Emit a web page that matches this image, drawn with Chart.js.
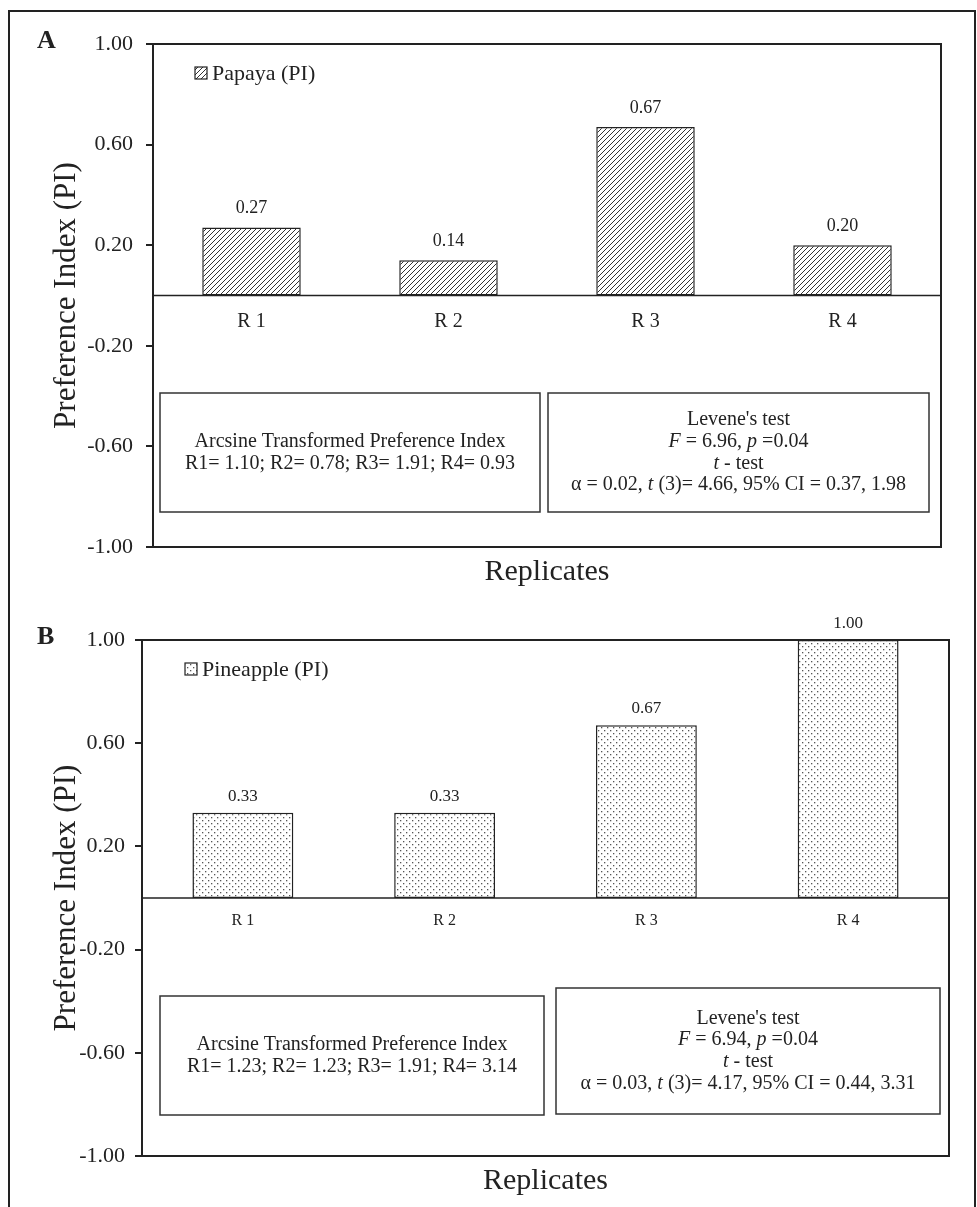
<!DOCTYPE html>
<html>
<head>
<meta charset="utf-8">
<script src="https://cdn.jsdelivr.net/npm/chart.js@4.4.0/dist/chart.umd.min.js"></script>
<style>
  body { margin: 0; background: #fff; width: 977px; height: 1207px; overflow: hidden; position: relative; }
  #frame { position: absolute; left: 8px; top: 10px; width: 964px; height: 1300px; border: 2px solid #222; }
  .panel { position: absolute; left: 0; width: 977px; }
</style>
</head>
<body>
<div id="frame"></div>
<div class="panel" style="top:0;height:600px"><canvas id="chartA" width="977" height="600"></canvas></div>
<div class="panel" style="top:600px;height:607px"><canvas id="chartB" width="977" height="607"></canvas></div>
<script>
// valeurs
const replicates = ['R 1', 'R 2', 'R 3', 'R 4'];
const papayaPI = [0.27, 0.14, 0.67, 0.20];
const pineapplePI = [0.33, 0.33, 0.67, 1.00];
const yTicks = [-1.0, -0.6, -0.2, 0.2, 0.6, 1.0];

const papayaArcsine = [1.10, 0.78, 1.91, 0.93];
const pineappleArcsine = [1.23, 1.23, 1.91, 3.14];
const papayaLevene = [6.96, 0.04];       // F, p
const pineappleLevene = [6.94, 0.04];
const papayaTTest = [0.02, 3, 4.66, 0.37, 1.98];     // alpha, df, t, CI bas, CI haut
const pineappleTTest = [0.03, 3, 4.17, 0.44, 3.31];

const SERIF = "'Liberation Serif', 'Times New Roman', serif";
const INK = '#222';

function hatchPattern() {
    const c = document.createElement('canvas');
    c.width = 5; c.height = 5;
    const g = c.getContext('2d');
    g.fillStyle = '#fff';
    g.fillRect(0, 0, 5, 5);
    g.strokeStyle = '#333';
    g.lineWidth = 1;
    g.beginPath();
    g.moveTo(-1, 6); g.lineTo(6, -1);
    g.moveTo(-1, 1); g.lineTo(1, -1);
    g.moveTo(4, 6); g.lineTo(6, 4);
    g.stroke();
    return g.createPattern(c, 'repeat');
}

function dotPattern() {
    const c = document.createElement('canvas');
    c.width = 6; c.height = 6;
    const g = c.getContext('2d');
    g.fillStyle = '#fff';
    g.fillRect(0, 0, 6, 6);
    g.fillStyle = '#555';
    g.fillRect(1, 1, 1.3, 1.3);
    g.fillRect(4, 4, 1.3, 1.3);
    return g.createPattern(c, 'repeat');
}

function statLines(levene, ttest) {
    return [
        [{ t: "Levene's test" }],
        [{ t: 'F', i: true }, { t: ' = ' + levene[0].toFixed(2) + ', ' }, { t: 'p', i: true }, { t: ' =' + levene[1].toFixed(2) }],
        [{ t: 't', i: true }, { t: ' - test' }],
        [{ t: 'α = ' + ttest[0].toFixed(2) + ', ' }, { t: 't', i: true },
         { t: ' (' + ttest[1] + ')= ' + ttest[2].toFixed(2) + ', 95% CI = ' + ttest[3].toFixed(2) + ', ' + ttest[4].toFixed(2) }]
    ];
}

function arcsineLines(vals) {
    return [
        [{ t: 'Arcsine Transformed Preference Index' }],
        [{ t: vals.map((v, i) => 'R' + (i + 1) + '= ' + v.toFixed(2)).join('; ') }]
    ];
}

function drawRich(ctx, segs, cx, cy, size) {
    const fonts = segs.map(s => (s.i ? 'italic ' : '') + size + 'px ' + SERIF);
    let w = 0;
    segs.forEach((s, k) => { ctx.font = fonts[k]; w += ctx.measureText(s.t).width; });
    let x = cx - w / 2;
    ctx.textAlign = 'left';
    ctx.textBaseline = 'middle';
    segs.forEach((s, k) => {
        ctx.font = fonts[k];
        ctx.fillText(s.t, x, cy);
        x += ctx.measureText(s.t).width;
    });
}

// cadre, ligne zéro, étiquettes, légende, encadrés
const panelDecor = {
    id: 'panelDecor',
    afterDatasetsDraw(chart, args, o) {
        const ctx = chart.ctx;
        const area = chart.chartArea;
        const xs = chart.scales.x;
        const ys = chart.scales.y;
        const zeroY = ys.getPixelForValue(0);
        const ds = chart.data.datasets[0];
        ctx.save();

        ctx.strokeStyle = INK;
        ctx.lineWidth = 1.5;
        ctx.beginPath();
        ctx.moveTo(area.left, zeroY);
        ctx.lineTo(area.right, zeroY);
        ctx.stroke();

        ctx.lineWidth = 2;
        ctx.strokeRect(area.left, area.top, area.right - area.left, area.bottom - area.top);

        ctx.fillStyle = INK;
        ctx.textAlign = 'center';
        ctx.textBaseline = 'middle';
        ctx.font = o.catSize + 'px ' + SERIF;
        chart.data.labels.forEach((lab, i) => {
            ctx.fillText(lab, xs.getPixelForValue(i), zeroY + o.catGap);
        });

        ctx.font = o.valSize + 'px ' + SERIF;
        ctx.textBaseline = 'bottom';
        chart.getDatasetMeta(0).data.forEach((bar, i) => {
            ctx.fillText(ds.data[i].toFixed(2), bar.x, bar.y - o.valGap);
        });

        // légende
        const lg = o.legend;
        ctx.fillStyle = ds.backgroundColor;
        ctx.fillRect(lg.x, lg.y - 6, 12, 12);
        ctx.lineWidth = 1.2;
        ctx.strokeRect(lg.x, lg.y - 6, 12, 12);
        ctx.fillStyle = INK;
        ctx.textAlign = 'left';
        ctx.textBaseline = 'middle';
        ctx.font = '22px ' + SERIF;
        ctx.fillText(ds.label, lg.x + 17, lg.y + 1);

        // lettre du panneau
        ctx.font = 'bold 26px ' + SERIF;
        ctx.fillText(o.letter[0], o.letter[1], o.letter[2]);

        // encadrés
        o.boxes.forEach(b => {
            ctx.lineWidth = 1.5;
            ctx.strokeStyle = '#333';
            ctx.strokeRect(b.x, b.y, b.w, b.h);
            const cx = b.x + b.w / 2;
            const cy = b.y + b.h / 2;
            const n = b.lines.length;
            b.lines.forEach((segs, k) => {
                drawRich(ctx, segs, cx, cy + (k - (n - 1) / 2) * 21.7, 20);
            });
        });
        ctx.restore();
    }
};

function makeChart(id, label, values, fill, L) {
    return new Chart(document.getElementById(id), {
        type: 'bar',
        data: {
            labels: replicates,
            datasets: [{
                label: label,
                data: values,
                backgroundColor: fill,
                borderColor: INK,
                borderWidth: 1.5,
                borderSkipped: false,
                barPercentage: 0.5,
                categoryPercentage: 1.0
            }]
        },
        options: {
            responsive: false,
            animation: false,
            devicePixelRatio: 1,
            layout: { padding: { left: 30, top: L.top, right: L.right, bottom: 0 } },
            plugins: {
                legend: { display: false },
                tooltip: { enabled: false },
                panelDecor: L.decor
            },
            scales: {
                x: {
                    ticks: { display: false },
                    grid: { display: false },
                    border: { display: false },
                    afterFit: s => { s.height = L.xHeight; },
                    title: {
                        display: true,
                        text: 'Replicates',
                        color: INK,
                        font: { family: SERIF, size: 30 },
                        padding: { top: 0, bottom: L.titlePad }
                    }
                },
                y: {
                    min: -1,
                    max: 1,
                    afterBuildTicks: s => { s.ticks = yTicks.map(v => ({ value: v })); },
                    afterFit: s => { s.width = L.yWidth; },
                    ticks: {
                        callback: v => v.toFixed(2),
                        color: INK,
                        font: { family: SERIF, size: 22 },
                        padding: L.tickPad
                    },
                    grid: { drawOnChartArea: false, drawTicks: true, tickLength: 7, color: INK, lineWidth: 2 },
                    border: { display: false },
                    title: {
                        display: true,
                        text: 'Preference Index (PI)',
                        color: INK,
                        font: { family: SERIF, size: 31 },
                        padding: { top: 18, bottom: 0 }
                    }
                }
            }
        },
        plugins: [panelDecor]
    });
}

makeChart('chartA', 'Papaya (PI)', papayaPI, hatchPattern(), {
    top: 44, right: 36, xHeight: 53, yWidth: 123, tickPad: 13, titlePad: 10,
    decor: {
        catSize: 20, catGap: 26, valSize: 18, valGap: 10,
        legend: { x: 195, y: 73 },
        letter: ['A', 37, 41],
        boxes: [
            { x: 160, y: 393, w: 380, h: 119, lines: arcsineLines(papayaArcsine) },
            { x: 548, y: 393, w: 381, h: 119, lines: statLines(papayaLevene, papayaTTest) }
        ]
    }
});

makeChart('chartB', 'Pineapple (PI)', pineapplePI, dotPattern(), {
    top: 40, right: 28, xHeight: 51, yWidth: 112, tickPad: 10, titlePad: 8,
    decor: {
        catSize: 16, catGap: 23, valSize: 17, valGap: 8,
        legend: { x: 185, y: 69 },
        letter: ['B', 37, 37],
        boxes: [
            { x: 160, y: 396, w: 384, h: 119, lines: arcsineLines(pineappleArcsine) },
            { x: 556, y: 388, w: 384, h: 126, lines: statLines(pineappleLevene, pineappleTTest) }
        ]
    }
});
</script>
</body>
</html>
